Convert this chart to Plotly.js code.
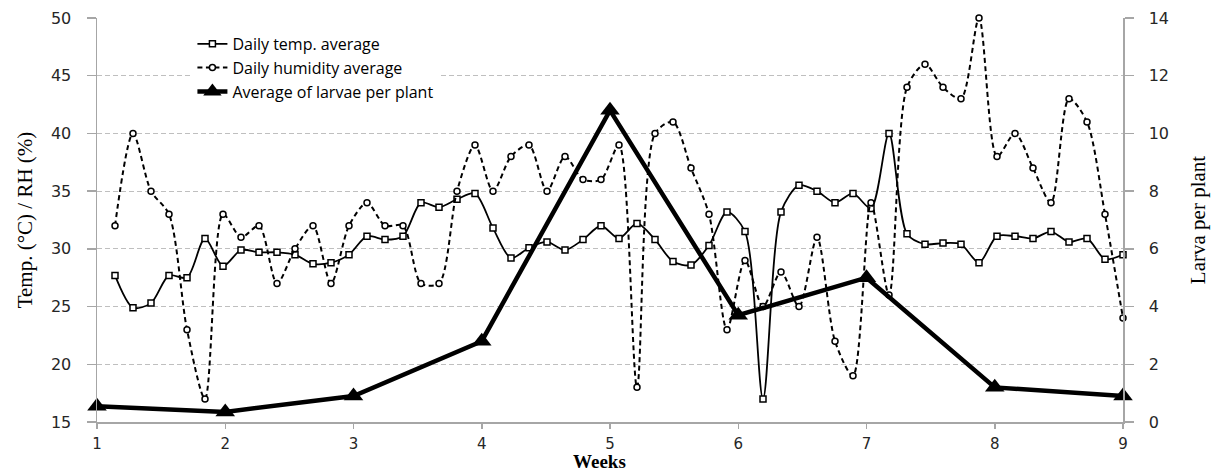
<!DOCTYPE html>
<html>
<head>
<meta charset="utf-8">
<script src="https://cdn.plot.ly/plotly-3.0.1.min.js"></script>
<style>
  html, body { margin: 0; padding: 0; background: #ffffff; }
  #chart { width: 1217px; height: 473px; }
</style>
</head>
<body>
<div id="chart"></div>
<script>
// ---- data ----
const weekTicks = [1, 2, 3, 4, 5, 6, 7, 8, 9];
const dayIndex = [1, 2, 3, 4, 5, 6, 7, 8, 9, 10, 11, 12, 13, 14, 15, 16, 17, 18, 19, 20,
  21, 22, 23, 24, 25, 26, 27, 28, 29, 30, 31, 32, 33, 34, 35, 36, 37, 38, 39, 40,
  41, 42, 43, 44, 45, 46, 47, 48, 49, 50, 51, 52, 53, 54, 55, 56, 57];
const tempAvg = [27.7, 24.9, 25.3, 27.7, 27.5, 30.9, 28.5, 29.9, 29.7, 29.7,
  29.5, 28.7, 28.8, 29.5, 31.1, 30.8, 31.1, 34.0, 33.6, 34.3,
  34.8, 31.8, 29.2, 30.1, 30.6, 29.9, 30.8, 32.0, 30.9, 32.2,
  30.8, 28.9, 28.6, 30.3, 33.2, 31.5, 17.0, 33.2, 35.5, 35.0,
  34.0, 34.8, 33.5, 40.0, 31.3, 30.4, 30.5, 30.4, 28.8, 31.1,
  31.1, 30.9, 31.5, 30.6, 30.9, 29.1, 29.5];
const humidityAvg = [32, 40, 35, 33, 23, 17, 33, 31, 32, 27,
  30, 32, 27, 32, 34, 32, 32, 27, 27, 35,
  39, 35, 38, 39, 35, 38, 36, 36, 39, 18,
  40, 41, 37, 33, 23, 29, 25, 28, 25, 31,
  22, 19, 34, 26, 44, 46, 44, 43, 50, 38,
  40, 37, 34, 43, 41, 33, 24];
const larvaeWeeks = [1, 2, 3, 4, 5, 6, 7, 8, 9];
const larvaePerPlant = [0.55, 0.35, 0.9, 2.8, 10.8, 3.7, 5.0, 1.2, 0.9];
const seriesNames = ['Daily temp. average', 'Daily humidity average', 'Average of larvae per plant'];
const xTitle = 'Weeks';
const yTitle = 'Temp. (°C) / RH (%)';
const y2Title = 'Larva per plant';

// daily readings spread evenly across weeks 1..9
const dayWeek = dayIndex.map(d => 1 + d * 8 / dayIndex.length);

const axisGrey = '#a6a6a6';
const tickFont = { family: 'DejaVu Sans', size: 16, color: '#262626' };
const xTickFont = { family: 'DejaVu Sans', size: 15, color: '#262626' };

const traces = [
  {
    x: dayWeek, y: tempAvg, name: seriesNames[0], type: 'scatter', mode: 'lines+markers',
    line: { color: '#000', width: 1.8, shape: 'spline', smoothing: 0.8 },
    marker: { symbol: 'square', size: 6, color: '#fff', line: { color: '#000', width: 1.5 } },
    cliponaxis: false
  },
  {
    x: dayWeek, y: humidityAvg, name: seriesNames[1], type: 'scatter', mode: 'lines+markers',
    line: { color: '#000', width: 2, dash: '5px,3.5px', shape: 'spline', smoothing: 0.8 },
    marker: { symbol: 'circle', size: 6, color: '#fff', line: { color: '#000', width: 1.5 } },
    cliponaxis: false
  },
  {
    x: larvaeWeeks, y: larvaePerPlant, name: seriesNames[2], type: 'scatter', mode: 'lines+markers',
    yaxis: 'y2',
    line: { color: '#000', width: 4.5 },
    marker: { symbol: 'triangle-up', size: 17, color: '#000' },
    cliponaxis: false
  }
];

const layout = {
  width: 1217, height: 473,
  margin: { l: 97, r: 94, t: 18, b: 51, pad: 0 },
  paper_bgcolor: '#fff', plot_bgcolor: '#fff',
  showlegend: true,
  legend: {
    x: 0.093, y: 0.978, xanchor: 'left', yanchor: 'top',
    bgcolor: '#fff', borderwidth: 0, traceorder: 'normal',
    font: { family: 'Open Sans', size: 16, color: '#000' }
  },
  xaxis: {
    range: [1, 9], tickvals: weekTicks, ticktext: weekTicks.map(String),
    showline: true, linecolor: axisGrey, linewidth: 1.5,
    ticks: 'outside', ticklen: 5, tickcolor: axisGrey, tickwidth: 1.5,
    showgrid: false, zeroline: false, tickfont: xTickFont, ticklabelstandoff: 2
  },
  yaxis: {
    range: [15, 50], tick0: 15, dtick: 5,
    showline: true, linecolor: axisGrey, linewidth: 1.5,
    ticks: 'outside', ticklen: 9, tickcolor: axisGrey, tickwidth: 1.5,
    showgrid: true, gridcolor: '#bfbfbf', gridwidth: 1, griddash: '5px,3px',
    zeroline: false, tickfont: tickFont, ticklabelstandoff: 12,
    title: { text: yTitle, font: { family: 'Liberation Serif', size: 21, color: '#000' }, standoff: 12 }
  },
  yaxis2: {
    overlaying: 'y', side: 'right', range: [0, 14], tick0: 0, dtick: 2,
    showline: true, linecolor: axisGrey, linewidth: 1.5,
    ticks: 'outside', ticklen: 9, tickcolor: axisGrey, tickwidth: 1.5,
    showgrid: false, zeroline: false, tickfont: tickFont, ticklabelstandoff: 12,
    title: { text: y2Title, font: { family: 'Liberation Serif', size: 21, color: '#000' }, standoff: 22 }
  },
  annotations: [
    {
      text: xTitle, xref: 'paper', yref: 'paper', x: 0.49, y: -0.1262,
      xanchor: 'center', yanchor: 'bottom', showarrow: false, borderpad: 0,
      font: { family: 'Liberation Serif', size: 19, color: '#000', weight: 'bold' }
    }
  ]
};

Plotly.newPlot('chart', traces, layout, { displayModeBar: false, staticPlot: true });
</script>
</body>
</html>
